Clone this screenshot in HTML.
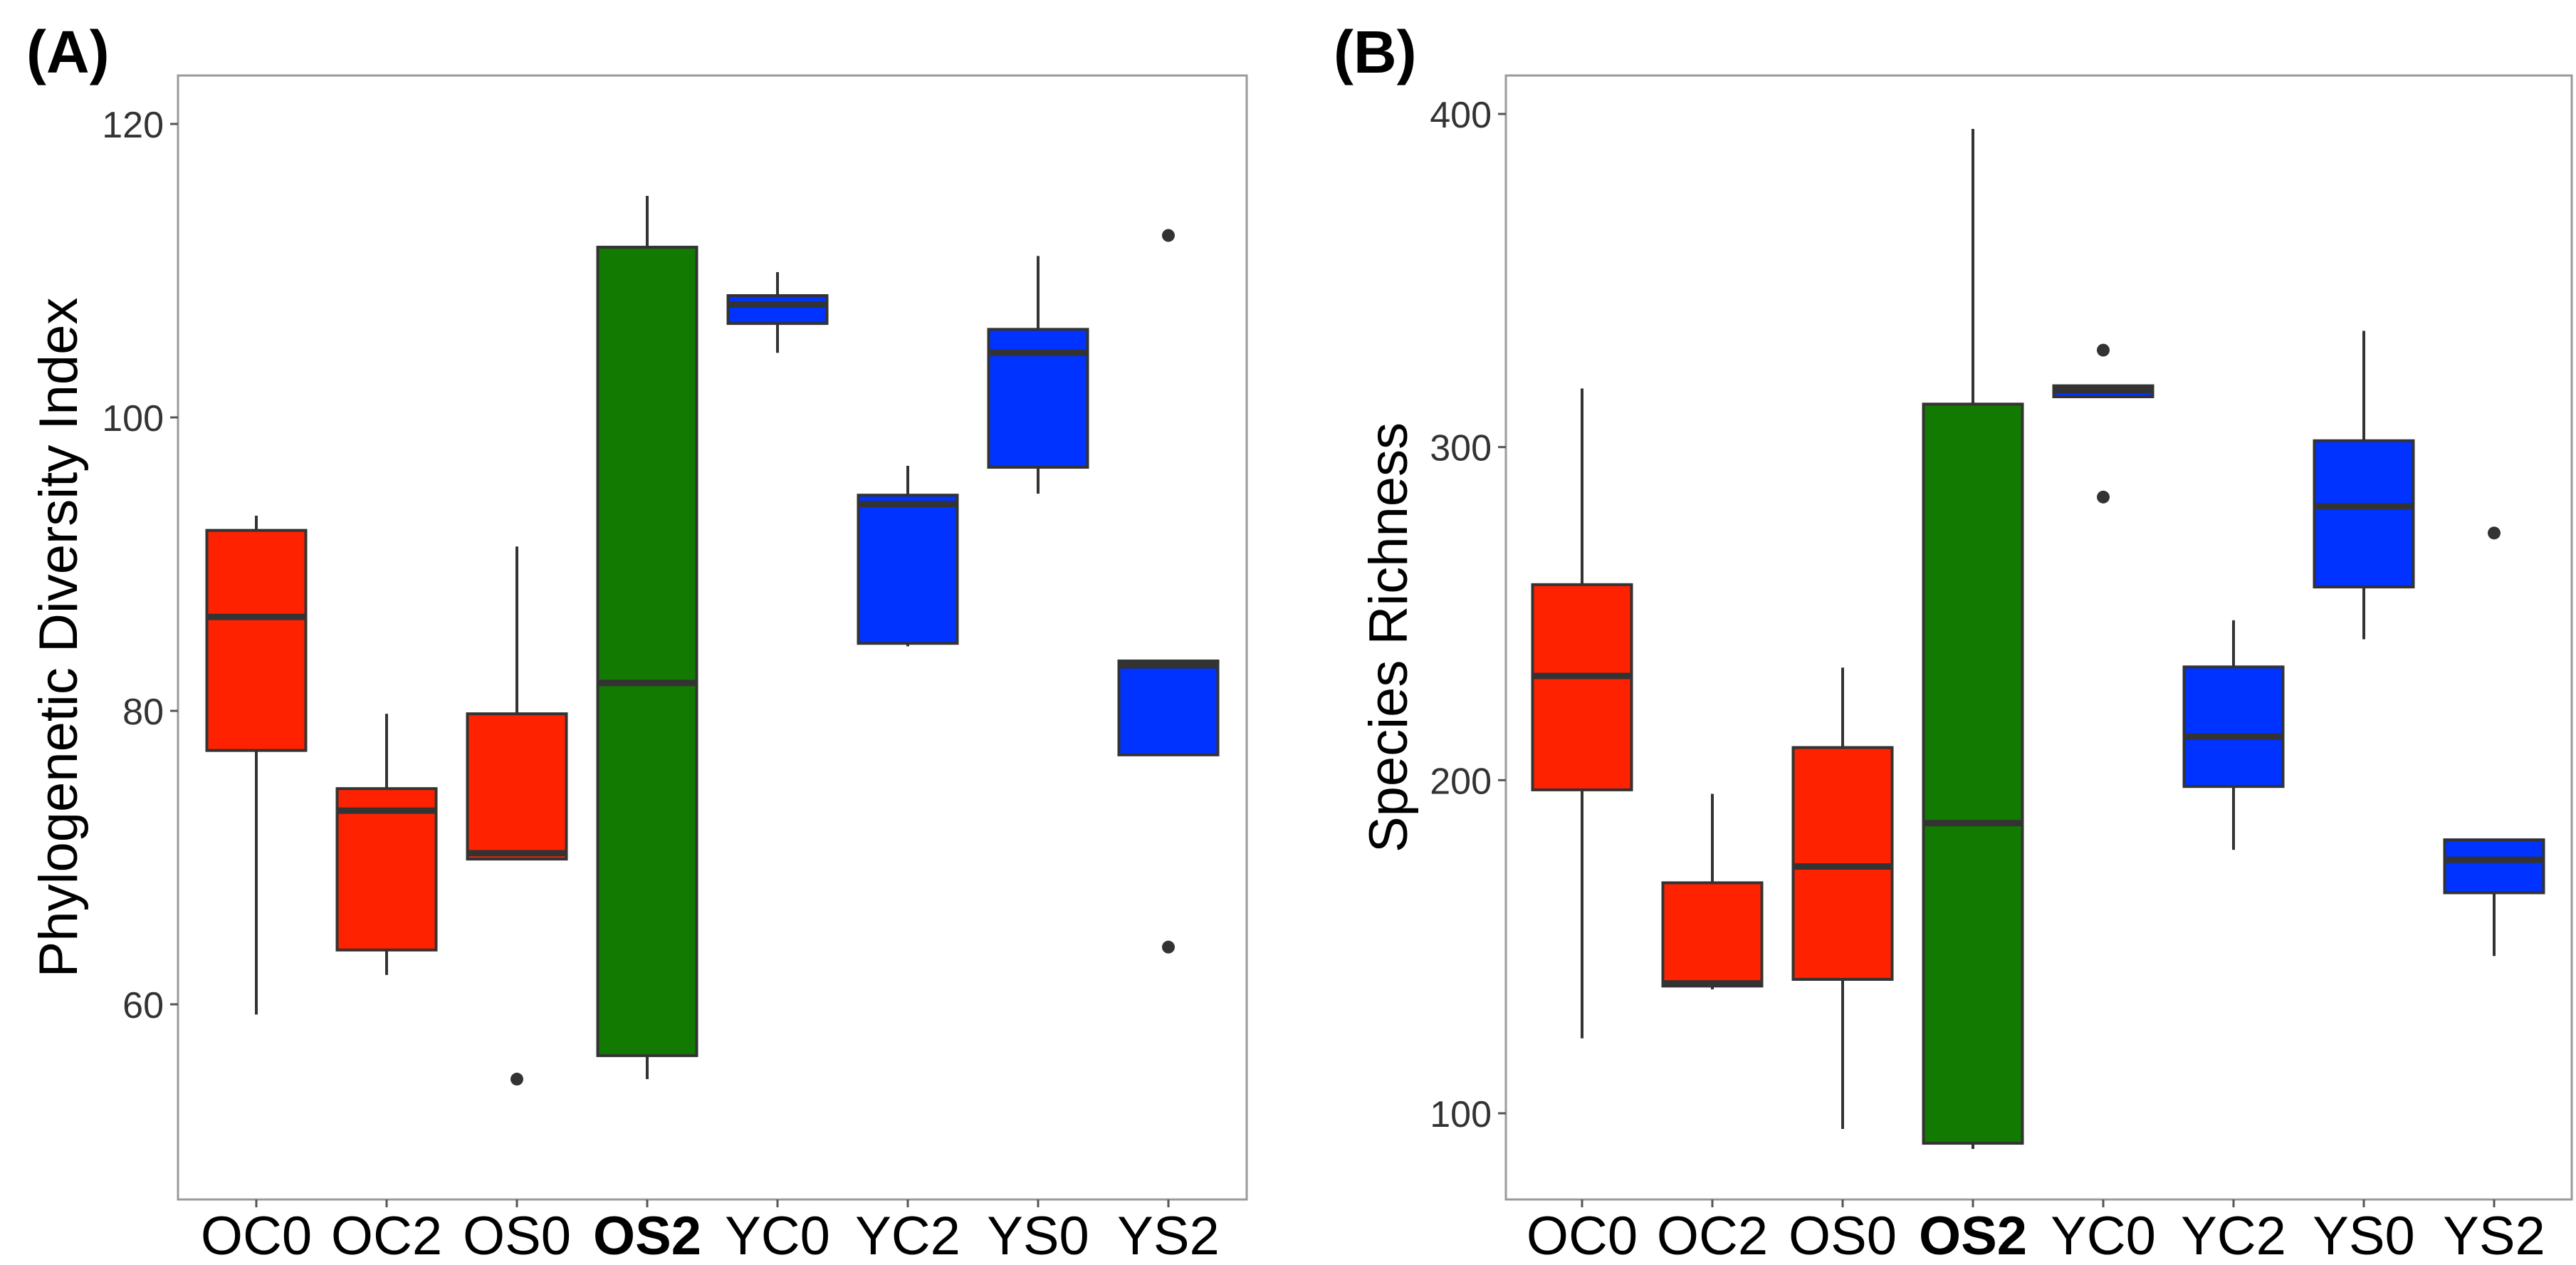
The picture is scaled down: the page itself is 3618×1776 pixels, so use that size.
<!DOCTYPE html>
<html><head><meta charset="utf-8"><style>
html,body{margin:0;padding:0;background:#fff;}
svg{display:block;font-family:"Liberation Sans",Arial,sans-serif;}
</style></head><body>
<svg id="fig" width="3618" height="1776" viewBox="0 0 3618 1776" xmlns="http://www.w3.org/2000/svg">
<rect x="0" y="0" width="3618" height="1776" fill="#fff"/>
<g id="pA"></g>
<g id="pB"></g>
</svg>
<script>
const categories = ["OC0","OC2","OS0","OS2","YC0","YC2","YS0","YS2"];
const groupColors = ["#ff2200","#ff2200","#ff2200","#127a00","#0033ff","#0033ff","#0033ff","#0033ff"];
// Panel A: Phylogenetic Diversity Index
const pdLow = [59.3, 62.0, 69.9, 54.9, 104.4, 84.4, 94.8, 77.0];
const pdQ1 = [77.3, 63.7, 69.9, 56.5, 106.4, 84.6, 96.6, 77.0];
const pdMed = [86.4, 73.2, 70.3, 81.9, 107.7, 94.1, 104.4, 83.1];
const pdQ3 = [92.3, 74.7, 79.8, 111.6, 108.3, 94.7, 106.0, 83.4];
const pdHigh = [93.3, 79.8, 91.2, 115.1, 109.9, 96.7, 111.0, 83.4];
const pdOutliers = [[], [], [54.9], [], [], [], [], [112.4, 63.9]];
const pdTicks = [60, 80, 100, 120];
// Panel B: Species Richness
const srLow = [122.5, 137.2, 95.3, 89.3, 315.1, 179.1, 242.3, 147.2];
const srQ1 = [197.1, 138.2, 140.2, 91.0, 315.1, 198.1, 258.0, 166.2];
const srMed = [231.3, 139.0, 174.1, 187.1, 317.1, 213.1, 282.2, 176.1];
const srQ3 = [258.7, 169.2, 209.8, 312.9, 318.4, 234.0, 301.9, 182.1];
const srHigh = [317.6, 195.9, 233.8, 395.5, 318.4, 248.0, 334.9, 182.1];
const srOutliers = [[], [], [], [], [329.1, 285.0], [], [], [274.2]];
const srTicks = [100, 200, 300, 400];

const NS = "http://www.w3.org/2000/svg";
function mk(parent, tag, attrs, text){
  const e = document.createElementNS(NS, tag);
  for (const k in attrs) e.setAttribute(k, attrs[k]);
  if (text !== undefined) e.textContent = text;
  parent.appendChild(e);
  return e;
}

function panel(g, cfg){
  const {L,R,T,B,x0,dx,yv0,yp0,yv1,yp1} = cfg;
  const y = v => yp0 + (v - yv0) * (yp1 - yp0) / (yv1 - yv0);
  const x = i => x0 + i * dx;
  const bw = 139;
  const lbl = mk(g, "text", {x: cfg.lblX, y: 102, "font-size": 84, "font-weight": "bold", fill: "#000"}, cfg.label);
  
  
  const frame = mk(g, "rect", {x: L, y: T, width: R - L, height: B - T, fill: "#fff", stroke: "#9a9a9a", "stroke-width": 3});
  
  
  cfg.ticks.forEach(t => {
    const tk = mk(g, "line", {x1: L - 11, x2: L, y1: y(t), y2: y(t), stroke: "#555", "stroke-width": 3});
    
    
    const tl = mk(g, "text", {x: L - 20, y: y(t) + 19, "font-size": 52, fill: "#333", "text-anchor": "end"}, String(t));
    
    
  });
  categories.forEach((c, i) => {
    const tk = mk(g, "line", {x1: x(i), x2: x(i), y1: B, y2: B + 11, stroke: "#555", "stroke-width": 3});
    
    
    const tl = mk(g, "text", {x: x(i), y: 1761, "font-size": 76, fill: "#000", "text-anchor": "middle", "font-weight": c === "OS2" ? "bold" : "normal"}, c);
    
    
  });
  const yt = mk(g, "text", {x: 0, y: 0, "font-size": 76, fill: "#000", "text-anchor": "middle", transform: `translate(${cfg.titleX},${(T + B) / 2}) rotate(-90)`}, cfg.title);
  
  
  categories.forEach((c, i) => {
    const bx = mk(g, "g", {});
    
    
    const cx = x(i);
    mk(bx, "line", {x1: cx, x2: cx, y1: y(cfg.high[i]), y2: y(cfg.q3[i]), stroke: "#333", "stroke-width": 4});
    mk(bx, "line", {x1: cx, x2: cx, y1: y(cfg.q1[i]), y2: y(cfg.low[i]), stroke: "#333", "stroke-width": 4});
    mk(bx, "rect", {x: cx - bw / 2, y: y(cfg.q3[i]), width: bw, height: Math.max(1, y(cfg.q1[i]) - y(cfg.q3[i])), fill: groupColors[i], stroke: "#333", "stroke-width": 4});
    mk(bx, "line", {x1: cx - bw / 2, x2: cx + bw / 2, y1: y(cfg.med[i]), y2: y(cfg.med[i]), stroke: "#333", "stroke-width": 9});
    cfg.out[i].forEach(o => {
      const p = mk(bx, "circle", {cx: cx, cy: y(o), r: 9, fill: "#333"});
      
      
    });
  });
}

panel(document.getElementById("pA"), {
  L: 250, R: 1751, T: 106, B: 1684, x0: 360, dx: 183,
  yv0: 120, yp0: 174, yv1: 60, yp1: 1410,
  ticks: pdTicks, label: "(A)", lblX: 37, titleX: 108, title: "Phylogenetic Diversity Index",
  low: pdLow, q1: pdQ1, med: pdMed, q3: pdQ3, high: pdHigh, out: pdOutliers
});
panel(document.getElementById("pB"), {
  L: 2115, R: 3612, T: 106, B: 1684, x0: 2222, dx: 183,
  yv0: 400, yp0: 160, yv1: 100, yp1: 1563,
  ticks: srTicks, label: "(B)", lblX: 1873, titleX: 1976, title: "Species Richness",
  low: srLow, q1: srQ1, med: srMed, q3: srQ3, high: srHigh, out: srOutliers
});
</script>
</body></html>
